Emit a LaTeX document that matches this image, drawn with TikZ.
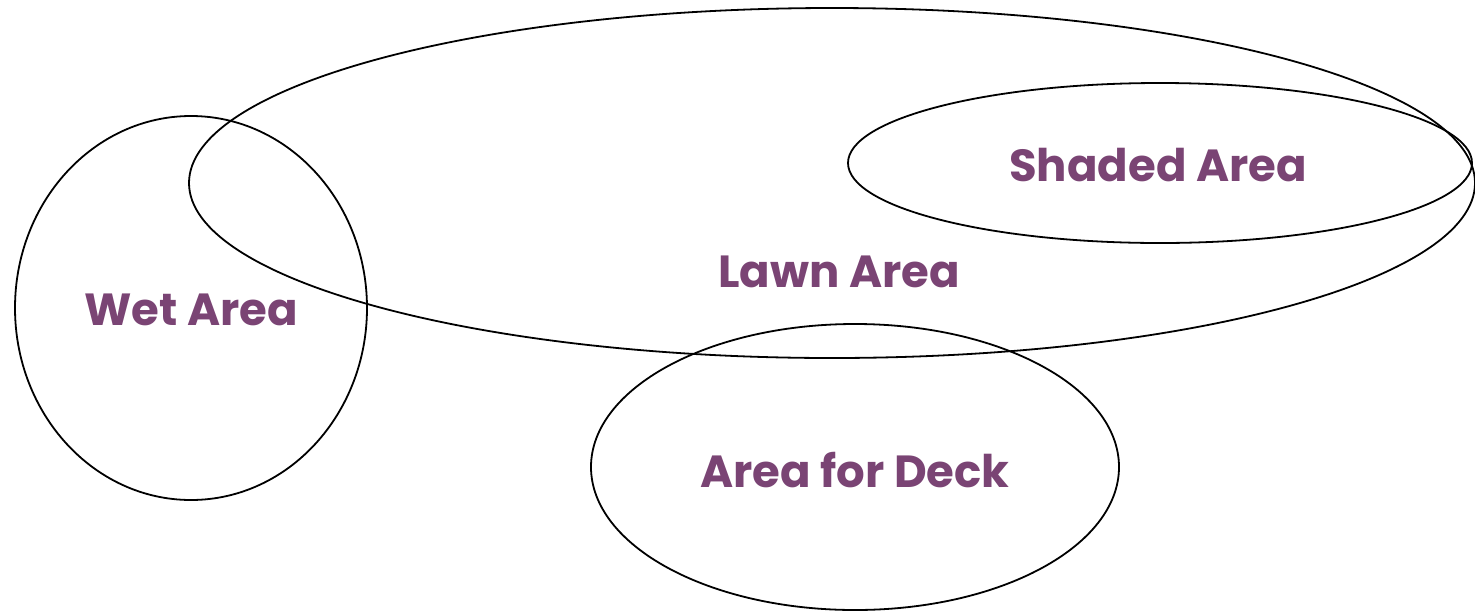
\documentclass[tikz,border=0pt]{standalone}
\usepackage{fontspec}
\setmainfont{Poppins}
\definecolor{txt}{HTML}{7A4474}
\begin{document}
\begin{tikzpicture}[x=1pt,y=-1pt,
  area/.style={draw=black,line width=1.8pt,fill=none},
  lbl/.style={text=txt,font=\fontsize{45}{50}\selectfont\bfseries,inner sep=0pt}]
\useasboundingbox (0,0) rectangle (1475,614);
\draw[area] (832,183) ellipse [x radius=643, y radius=175];
\draw[area] (1160,163) ellipse [x radius=312, y radius=80];
\draw[area] (191,308) ellipse [x radius=176, y radius=192];
\draw[area] (855,467) ellipse [x radius=264, y radius=143];
\node[lbl] (lawn) at (839,272) {Lawn Area};
\node[lbl] (shaded) at (1158,165) {Shaded Area};
\node[lbl] (wet) at (191,310) {Wet Area};
\node[lbl] (deck) at (855,470) {Area for Deck};
\end{tikzpicture}
\end{document}
